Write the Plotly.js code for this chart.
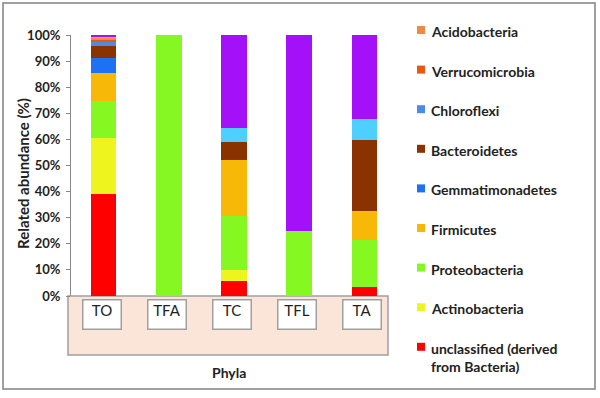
<!DOCTYPE html>
<html>
<head>
<meta charset="utf-8">
<script src="https://cdn.plot.ly/plotly-3.0.1.min.js"></script>
<style>html,body{margin:0;padding:0;background:#fff}#chart{width:600px;height:398px}</style>
</head>
<body>
<div id="chart"></div>
<script>
// Categories (samples)
var categories = ["TO", "TFA", "TC", "TFL", "TA"];

// Series values (% relative abundance), bottom to top of the stack
var unclassified   = [39.0, 0,   5.7,  0,    3.3];
var actinobacteria = [21.7, 0,   4.3,  0,    0];
var proteobacteria = [14.0, 100, 20.7, 25.0, 18.2];
var firmicutes     = [10.9, 0,   21.4, 0,    11.2];
var gemmatimonadetes = [5.4, 0,  0,    0,    0];
var bacteroidetes  = [4.8,  0,   6.8,  0,    27.1];
var chloroflexi    = [1.6,  0,   0,    0,    0];
var verrucomicrobia = [0.8, 0,   0,    0,    0];
var acidobacteria  = [0.6,  0,   0,    0,    0];
var otherCyan      = [0.5,  0,   5.3,  0,    7.9];
var otherPurple    = [0.7,  0,   35.8, 75.0, 32.3];

var seriesNames = ["unclassified (derived<br>from Bacteria)", "Actinobacteria", "Proteobacteria",
  "Firmicutes", "Gemmatimonadetes", "Bacteroidetes", "Chloroflexi", "Verrucomicrobia",
  "Acidobacteria", "Others", "Others "];
var seriesValues = [unclassified, actinobacteria, proteobacteria, firmicutes, gemmatimonadetes,
  bacteroidetes, chloroflexi, verrucomicrobia, acidobacteria, otherCyan, otherPurple];
var seriesColors = ["#FF0000", "#EEF51E", "#84F820", "#F8B808", "#1E70F5",
  "#8A3200", "#4A8CE6", "#E85810", "#F08A40", "#4DCFFF", "#A410F8"];
var seriesInLegend = [true, true, true, true, true, true, true, true, true, false, false];

var font = "Lato, 'Open Sans', sans-serif";

var traces = seriesNames.map(function (n, i) {
  return {
    type: "bar",
    name: n,
    x: categories,
    y: seriesValues[i],
    marker: { color: seriesColors[i], line: { width: 0 } },
    showlegend: false,
    hoverinfo: "name+y"
  };
});

// pixel helpers for paper coords (plot area: x 71..397, y 35..296)
var L = 71, R = 397, T = 35, B = 296;
function px(x) { return (x - L) / (R - L); }
function py(y) { return (B - y) / (B - T); }

var annotations = categories.map(function (c) {
  return {
    xref: "x", yref: "paper", x: c, y: 0, yanchor: "top", yshift: -3, xshift: -2,
    text: c, showarrow: false, width: 37, height: 28, valign: "top",
    bgcolor: "#FFFFFF", bordercolor: "#A0A0A0", borderwidth: 1.5, borderpad: 0,
    font: { family: font, size: 15, color: "#222" }
  };
});
annotations.push({
  xref: "paper", yref: "paper", x: px(229), y: py(372), xanchor: "center", yanchor: "middle",
  text: "<b>Phyla</b>", showarrow: false, font: { family: font, size: 14, color: "#222" }
});
annotations.push({
  xref: "paper", yref: "paper", x: px(23), y: py(174), xanchor: "center", yanchor: "middle",
  text: "<b>Related abundance (%)</b>",
  textangle: -90, showarrow: false, font: { family: font, size: 15, color: "#222" }
});

var shapes = [
  { type: "rect", xref: "paper", yref: "paper", x0: px(68), x1: px(388), y0: py(355), y1: 0,
    fillcolor: "#FBE4D8", line: { color: "#A0A0A0", width: 1.5 }, layer: "below" },
  { type: "rect", xref: "paper", yref: "paper", x0: px(3), x1: px(595), y0: py(389), y1: py(3),
    fillcolor: "rgba(0,0,0,0)", line: { color: "#808080", width: 1.5 }, layer: "below" }
];

// Legend (top entry = last legend series), drawn from the series arrays
var legendOrder = [];
for (var i = seriesNames.length - 1; i >= 0; i--) if (seriesInLegend[i]) legendOrder.push(i);
legendOrder.forEach(function (idx, k) {
  var cy = 30 + k * 39.6;
  shapes.push({ type: "rect", xref: "paper", yref: "paper",
    x0: px(417), x1: px(425), y0: py(cy + 4), y1: py(cy - 4),
    fillcolor: seriesColors[idx], line: { width: 0 } });
  annotations.push({ xref: "paper", yref: "paper", x: px(429), y: py(cy - 9),
    xanchor: "left", yanchor: "top", align: "left", showarrow: false,
    text: "<b>" + seriesNames[idx] + "</b>",
    font: { family: font, size: 14, color: "#222" } });
});

var layout = {
  width: 600, height: 398,
  margin: { l: L, r: 600 - R, t: T, b: 398 - B, pad: 0 },
  paper_bgcolor: "#FFFFFF", plot_bgcolor: "rgba(0,0,0,0)",
  barmode: "stack", bargap: 0.61, showlegend: false,
  font: { family: font, color: "#222" },
  xaxis: { type: "category", showticklabels: false, ticks: "", showline: false,
    showgrid: false, zeroline: false, fixedrange: true },
  yaxis: { range: [0, 100], dtick: 10, ticksuffix: "%", ticks: "outside", ticklen: 4,
    tickcolor: "#888", showline: true, linecolor: "#888", linewidth: 1, showgrid: false,
    zeroline: false, tickfont: { family: font, size: 13, weight: "bold", color: "#222" },
    ticklabelstandoff: 3, fixedrange: true },
  shapes: shapes,
  annotations: annotations
};

Plotly.newPlot("chart", traces, layout, { displayModeBar: false, staticPlot: true });
</script>
</body>
</html>
